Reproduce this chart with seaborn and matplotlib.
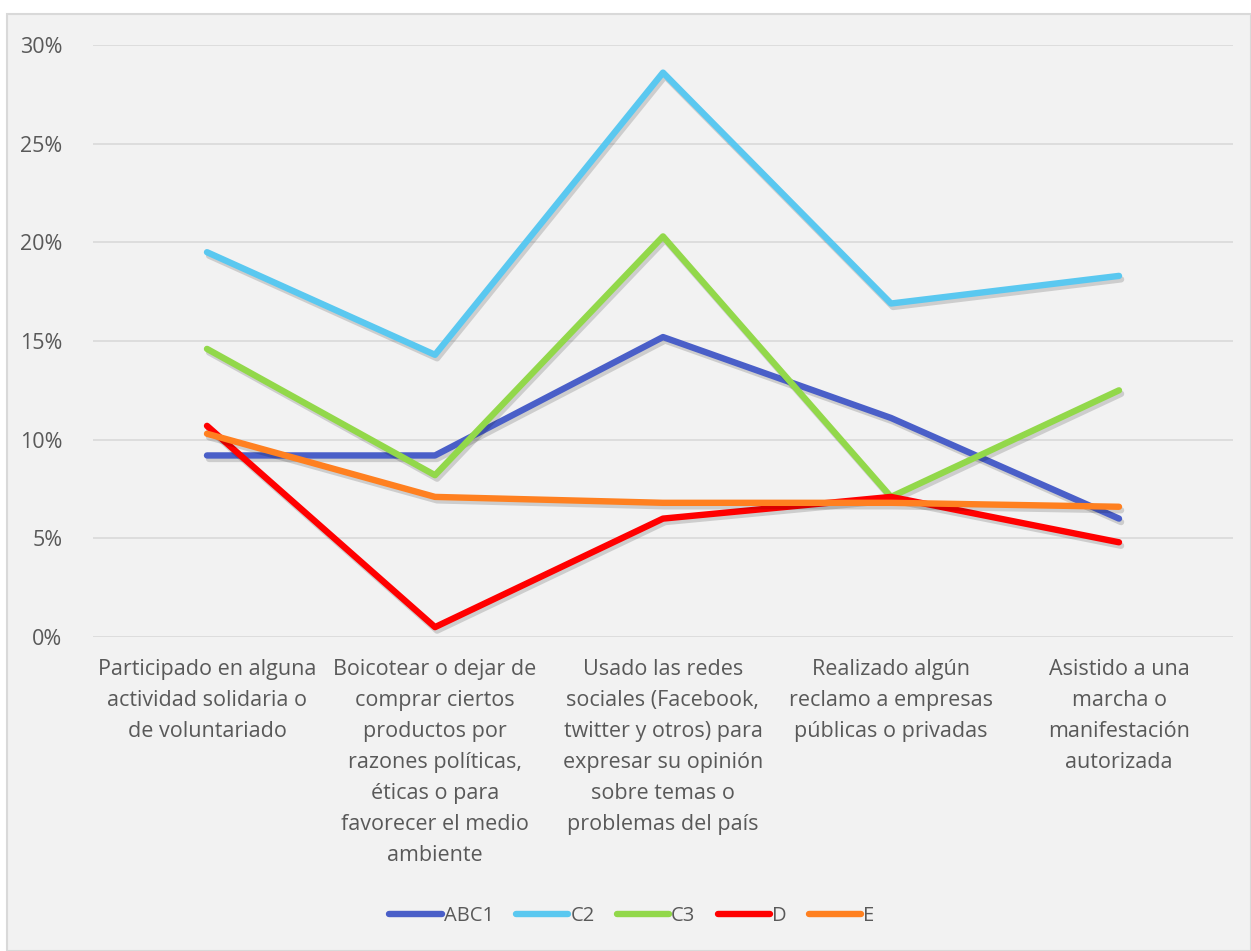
import matplotlib
matplotlib.use("Agg")
import matplotlib.pyplot as plt
import matplotlib.patheffects as pe
from matplotlib.patches import Rectangle
import seaborn as sns
import pandas as pd

categories = [
    "Participado en alguna\nactividad solidaria o\nde voluntariado",
    "Boicotear o dejar de\ncomprar ciertos\nproductos por\nrazones políticas,\néticas o para\nfavorecer el medio\nambiente",
    "Usado las redes\nsociales (Facebook,\ntwitter y otros) para\nexpresar su opinión\nsobre temas o\nproblemas del país",
    "Realizado algún\nreclamo a empresas\npúblicas o privadas",
    "Asistido a una\nmarcha o\nmanifestación\nautorizada",
]
series_names = ["ABC1", "C2", "C3", "D", "E"]
abc1 = [9.2, 9.2, 15.2, 11.1, 6.0]
c2 = [19.5, 14.3, 28.6, 16.9, 18.3]
c3 = [14.6, 8.2, 20.3, 7.1, 12.5]
d = [10.7, 0.5, 6.0, 7.1, 4.8]
e = [10.3, 7.1, 6.8, 6.8, 6.6]
yticks = [0, 5, 10, 15, 20, 25, 30]
ytick_labels = ["0%", "5%", "10%", "15%", "20%", "25%", "30%"]

colors = {"ABC1": "#4a5fc8", "C2": "#5ac8f0", "C3": "#92d84a", "D": "#ff0000", "E": "#ff8020"}

rows = []
for name, vals in zip(series_names, [abc1, c2, c3, d, e]):
    for i, v in enumerate(vals):
        rows.append({"pos": i, "value": v, "group": name})
df = pd.DataFrame(rows)

sns.set_theme(style="white")
plt.rcParams["font.family"] = ["Open Sans", "DejaVu Sans"]

W, H = 1251, 951
fs = 15.5
fig = plt.figure(figsize=(W / 100, H / 100), dpi=100, facecolor="white")
bg = Rectangle((7 / W, 0), 1 - 7 / W, 1 - 14 / H, transform=fig.transFigure,
               facecolor="#f2f2f2", edgecolor="#d9d9d9", linewidth=1.5, zorder=-10)
fig.patches.append(bg)
ax = fig.add_axes([93 / W, 1 - 637 / H, (1233 - 93) / W, (637 - 45) / H])
ax.set_facecolor("none")
ax.set_zorder(5)

sns.lineplot(data=df, x="pos", y="value", hue="group", hue_order=series_names,
             palette=colors, sort=False, linewidth=4.6, ax=ax, legend=True,
             solid_capstyle="round", solid_joinstyle="round")
for ln in ax.get_lines():
    ln.set_path_effects([pe.SimpleLineShadow(offset=(1.5, -2.5), shadow_color="black", alpha=0.15),
                         pe.Normal()])

ax.set_xlim(-0.5, 4.5)
ax.set_ylim(0, 30)
ax.set_yticks(yticks)
ax.set_yticklabels(ytick_labels)
ax.set_xticks(range(len(categories)))
ax.set_xticklabels(categories, linespacing=1.62)
ax.tick_params(axis="y", length=0, pad=22, labelsize=fs, labelcolor="#595959")
ax.tick_params(axis="x", length=0, pad=16, labelsize=fs, labelcolor="#595959")
for lbl in ax.get_xticklabels():
    lbl.set_verticalalignment("top")
    lbl.set_horizontalalignment("center")
ax.yaxis.grid(True, color="#d9d9d9", linewidth=1.2)
ax.xaxis.grid(False)
ax.set_axisbelow(True)
for s in ax.spines.values():
    s.set_visible(False)
ax.set_xlabel("")
ax.set_ylabel("")

leg = ax.legend(loc="center", bbox_to_anchor=(632 / W, 1 - 916 / H), bbox_transform=fig.transFigure,
                ncol=5, frameon=False, handlelength=2.6, handletextpad=0.1, columnspacing=1.1,
                fontsize=14.5)
for t in leg.get_texts():
    t.set_color("#595959")
for h in leg.get_lines():
    h.set_linewidth(4.6)
    h.set_path_effects([])

fig.savefig("out.png", dpi=100, facecolor="white")
